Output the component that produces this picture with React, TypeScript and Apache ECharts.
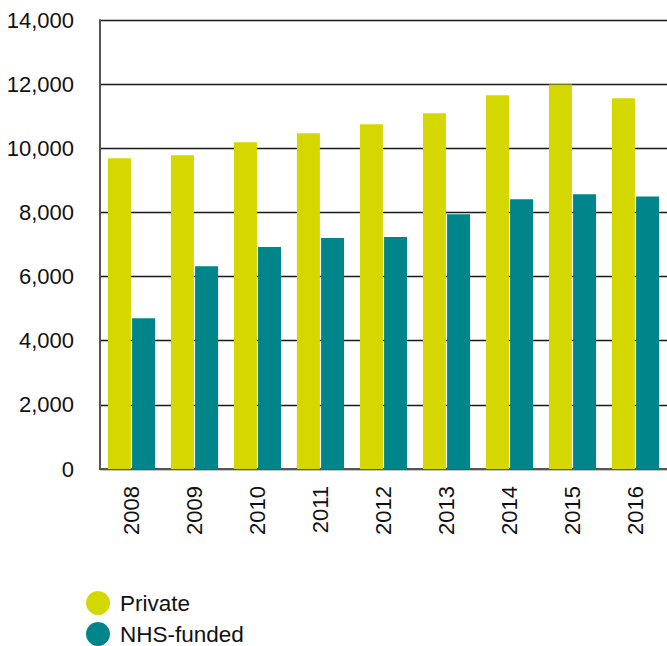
import React, { useEffect, useRef } from "react";
import * as echarts from "echarts";

const years = ["2008", "2009", "2010", "2011", "2012", "2013", "2014", "2015", "2016"];
const privateValues = [9690, 9780, 10190, 10470, 10750, 11090, 11650, 11990, 11560];
const nhsValues = [4700, 6320, 6920, 7200, 7230, 7940, 8410, 8570, 8500];
const seriesNames = ["Private", "NHS-funded"];

export default function App() {
  const ref = useRef<HTMLDivElement>(null);
  useEffect(() => {
    if (!ref.current) return;
    const chart = echarts.init(ref.current, null, { renderer: "svg" });
    const font = "Liberation Sans, Arial, Helvetica, sans-serif";
    chart.setOption({
      animation: false,
      textStyle: { fontFamily: font },
      grid: { left: 100, top: 20, width: 576, height: 449, containLabel: false },
      legend: {
        orient: "vertical",
        left: 86,
        top: 591,
        padding: 0,
        icon: "circle",
        itemWidth: 24,
        itemHeight: 24,
        itemGap: 7,
        textStyle: { fontSize: 22.5, color: "#111", fontFamily: font, padding: [0, 0, 0, 5] },
        data: seriesNames,
      },
      xAxis: {
        type: "category",
        data: years,
        axisLine: { show: true, lineStyle: { color: "#555", width: 2 } },
        axisTick: { show: false },
        axisLabel: {
          rotate: 90,
          margin: 17,
          fontSize: 22,
          color: "#111",
          fontFamily: font,
        },
      },
      yAxis: {
        type: "value",
        min: 0,
        max: 14000,
        interval: 2000,
        axisLine: { show: true, lineStyle: { color: "#555", width: 2 } },
        axisTick: { show: false },
        axisLabel: {
          margin: 26,
          fontSize: 22,
          color: "#111",
          fontFamily: font,
          formatter: (v: number) => v.toLocaleString("en-US"),
        },
        splitLine: { show: true, lineStyle: { color: "#1a1a1a", width: 1.3 } },
      },
      series: [
        {
          name: seriesNames[0],
          type: "bar",
          data: privateValues,
          barWidth: 23,
          barGap: "5%",
          itemStyle: { color: "#d4d800" },
        },
        {
          name: seriesNames[1],
          type: "bar",
          data: nhsValues,
          barWidth: 23,
          itemStyle: { color: "#00868a" },
        },
      ],
    });
    return () => chart.dispose();
  }, []);
  return (
    <div
      ref={ref}
      style={{ position: "fixed", left: 0, top: 0, width: 667, height: 646, background: "#fff" }}
    />
  );
}
